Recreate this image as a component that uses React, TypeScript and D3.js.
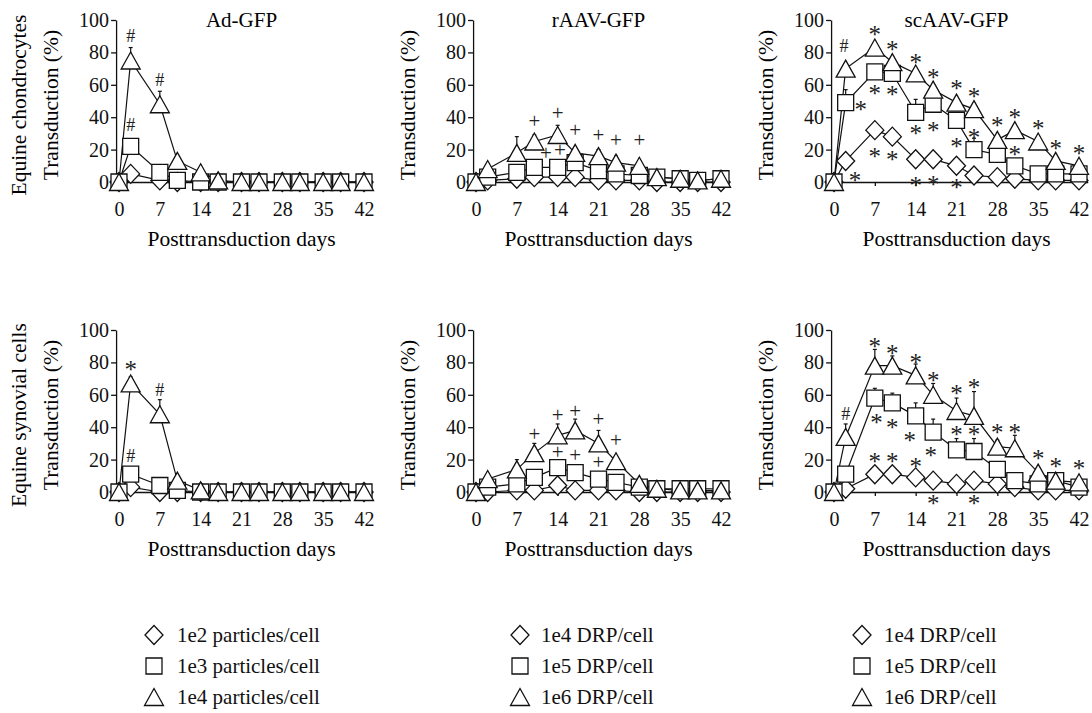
import React, { useRef, useEffect } from "react";
import * as d3 from "d3";

// sampling days and axis ticks
const days = [0, 2, 7, 10, 14, 17, 21, 24, 28, 31, 35, 38, 42];
const xTicks = [0, 7, 14, 21, 28, 35, 42];
const yTicks = [0, 20, 40, 60, 80, 100];

const titles = ["Ad-GFP", "rAAV-GFP", "scAAV-GFP"];
const rowLabels = ["Equine chondrocytes", "Equine synovial cells"];
const legendAd = ["1e2 particles/cell", "1e3 particles/cell", "1e4 particles/cell"];
const legendAav = ["1e4 DRP/cell", "1e5 DRP/cell", "1e6 DRP/cell"];

// chondrocytes - Ad-GFP
const adChLow = [0, 5, 1, 0, 0, 0, 0, 0, 0, 0, 0, 0, 0];
const adChMid = [0, 22, 6, 1, 0, 0, 0, 0, 0, 0, 0, 0, 0];
const adChHigh = [0, 75, 48, 13, 6, 1, 0, 0, 0, 0, 0, 0, 0];
const adChHighErr = [0, 8, 8, 3, 1, 0, 0, 0, 0, 0, 0, 0, 0];
// chondrocytes - rAAV-GFP
const raChLow = [0, 1, 2, 3, 3, 3, 1, 1, 1, 0, 0, 0, 0];
const raChMid = [0, 3, 6, 9, 9, 12, 7, 5, 4, 3, 2, 1, 2];
const raChHigh = [0, 8, 18, 25, 29, 18, 16, 12, 10, 3, 2, 1, 2];
const raChHighErr = [0, 3, 10, 4, 6, 3, 4, 4, 3, 2, 1, 1, 1];
// chondrocytes - scAAV-GFP
const scChLow = [0, 13, 32, 28, 14, 14, 10, 4, 3, 2, 1, 1, 1];
const scChMid = [0, 49, 68, 67, 43, 48, 38, 20, 17, 10, 5, 5, 5];
const scChMidErr = [0, 8, 3, 2, 8, 4, 3, 7, 3, 2, 1, 1, 1];
const scChHigh = [0, 70, 83, 74, 67, 57, 49, 45, 26, 32, 25, 13, 10];
const scChHighErr = [0, 3, 3, 3, 3, 3, 3, 3, 3, 3, 3, 3, 3];

// synovial cells - Ad-GFP
const adSyLow = [0, 3, 0, 0, 0, 0, 0, 0, 0, 0, 0, 0, 0];
const adSyMid = [0, 11, 4, 1, 0, 0, 0, 0, 0, 0, 0, 0, 0];
const adSyHigh = [0, 67, 48, 7, 1, 0, 0, 0, 0, 0, 0, 0, 0];
const adSyHighErr = [0, 4, 9, 3, 0, 0, 0, 0, 0, 0, 0, 0, 0];
// synovial cells - rAAV-GFP
const raSyLow = [0, 0, 1, 1, 4, 1, 1, 1, 0, 0, 0, 0, 0];
const raSyMid = [0, 3, 5, 9, 15, 12, 8, 6, 3, 2, 2, 2, 2];
const raSyHigh = [0, 8, 14, 24, 35, 38, 30, 19, 5, 2, 1, 1, 1];
const raSyHighErr = [0, 2, 6, 6, 7, 7, 8, 3, 2, 1, 1, 1, 1];
// synovial cells - scAAV-GFP
const scSyLow = [0, 2, 11, 11, 9, 7, 5, 7, 5, 3, 1, 1, 1];
const scSyMid = [0, 11, 58, 55, 47, 37, 26, 25, 14, 7, 5, 7, 3];
const scSyMidErr = [0, 2, 6, 6, 8, 8, 7, 8, 3, 2, 1, 2, 1];
const scSyHigh = [0, 34, 78, 78, 72, 60, 50, 47, 28, 27, 12, 7, 6];
const scSyHighErr = [0, 8, 10, 6, 7, 7, 8, 15, 4, 8, 3, 2, 2];

const none = days.map(() => 0);

// significance marks: [day, value, symbol]
const adChMarks = [[2, 90, "#"], [7, 63, "#"], [2, 35, "#"]];
const raChMarks = [[10, 37, "+"], [14, 42, "+"], [17, 31, "+"], [21, 28, "+"], [24, 25, "+"], [28, 25, "+"], [12, 17, "+"], [14.4, 19, "+"]];
const scChMarks = [
  [1.7, 84, "#"], [7, 94, "*"], [10, 85, "*"], [14, 77, "*"], [17, 68, "*"], [21, 61, "*"], [24, 56, "*"],
  [28, 38, "*"], [31, 43, "*"], [35, 36, "*"], [38, 24, "*"], [42, 21, "*"],
  [4.6, 48, "*"], [7, 58, "*"], [10, 57, "*"], [14, 33, "*"], [17, 35, "*"], [21, 25, "*"], [24, 31, "*"], [31, 20, "*"],
  [3.6, 4, "*"], [7, 19, "*"], [10, 17, "*"], [14, 1, "*"], [17, 2, "*"], [21, 0, "*"],
];
const adSyMarks = [[2, 79, "*"], [7, 63, "#"], [2, 22, "#"]];
const raSyMarks = [[10, 35, "+"], [14, 47, "+"], [17, 49, "+"], [21, 44, "+"], [24, 31, "+"], [14, 24, "+"], [17, 22, "+"], [21, 18, "+"]];
const scSyMarks = [
  [2, 48, "#"], [7, 93, "*"], [10, 89, "*"], [14, 83, "*"], [17, 72, "*"], [21, 64, "*"], [24, 68, "*"],
  [28, 40, "*"], [31, 40, "*"], [35, 24, "*"], [38, 19, "*"], [42, 18, "*"],
  [7.3, 46, "*"], [10, 43, "*"], [13, 35, "*"], [16.6, 26, "*"], [21, 39, "*"], [24, 39, "*"],
  [7, 22, "*"], [10, 22, "*"], [14, 19, "*"], [17, -4, "*"], [24, -4, "*"],
];

const panels = [
  { col: 0, row: 0, low: adChLow, mid: adChMid, high: adChHigh, midErr: none, highErr: adChHighErr, marks: adChMarks },
  { col: 1, row: 0, low: raChLow, mid: raChMid, high: raChHigh, midErr: none, highErr: raChHighErr, marks: raChMarks },
  { col: 2, row: 0, low: scChLow, mid: scChMid, high: scChHigh, midErr: scChMidErr, highErr: scChHighErr, marks: scChMarks },
  { col: 0, row: 1, low: adSyLow, mid: adSyMid, high: adSyHigh, midErr: none, highErr: adSyHighErr, marks: adSyMarks },
  { col: 1, row: 1, low: raSyLow, mid: raSyMid, high: raSyHigh, midErr: none, highErr: raSyHighErr, marks: raSyMarks },
  { col: 2, row: 1, low: scSyLow, mid: scSyMid, high: scSyHigh, midErr: scSyMidErr, highErr: scSyHighErr, marks: scSyMarks },
];

const FONT = "'Liberation Serif', 'Times New Roman', serif";

const shapes: Record<string, string> = {
  diamond: "M0,-9.5L9,0L0,9.5L-9,0Z",
  square: "M-8,-8H8V8H-8Z",
  triangle: "M0,-8.5L9.5,8.5L-9.5,8.5Z",
};

export default function App() {
  const ref = useRef<SVGSVGElement | null>(null);

  useEffect(() => {
    const svg = d3.select(ref.current);
    svg.selectAll("*").remove();

    const colX0 = [119, 476, 834]; // pixel of day 0
    const rowY0 = [182, 492]; // pixel of 0 %
    const pxDay = 245 / 42;
    const pxPct = 162 / 100;

    panels.forEach((p) => {
      const x0 = colX0[p.col];
      const y0 = rowY0[p.row];
      const x = d3.scaleLinear().domain([-1.5, 43.5]).range([x0 - 1.5 * pxDay, x0 + 43.5 * pxDay]);
      const y = d3.scaleLinear().domain([-5, 100]).range([y0 + 5 * pxPct, y0 - 100 * pxPct]);
      const g = svg.append("g");

      // x axis at 0 %
      const xa = g
        .append("g")
        .attr("transform", `translate(0,${y(0)})`)
        .call(d3.axisBottom(x).tickValues(xTicks).tickSize(4).tickSizeOuter(0).tickPadding(16));
      xa.selectAll("text").attr("font-size", 20).attr("font-family", FONT).attr("fill", "#111");
      xa.selectAll("line,path").attr("stroke", "#111").attr("stroke-width", 1.3);

      // y axis
      const ya = g
        .append("g")
        .attr("transform", `translate(${x(-0.5)},0)`)
        .call(d3.axisLeft(y).tickValues(yTicks).tickSize(5).tickSizeOuter(0).tickPadding(2));
      ya.selectAll("text").attr("font-size", 20).attr("font-family", FONT).attr("fill", "#111");
      ya.selectAll("line,path").attr("stroke", "#111").attr("stroke-width", 1.3);

      const midX = (x(-1.5) + x(43.5)) / 2;
      if (p.row === 0) {
        g.append("text")
          .attr("x", midX)
          .attr("y", y(100) + 7)
          .attr("text-anchor", "middle")
          .attr("font-size", 21)
          .attr("font-family", FONT)
          .text(titles[p.col]);
      }
      g.append("text")
        .attr("x", midX)
        .attr("y", y0 + 64)
        .attr("text-anchor", "middle")
        .attr("font-size", 21.5)
        .attr("font-family", FONT)
        .text("Posttransduction days");

      const midY = (y(100) + y(-5)) / 2;
      g.append("text")
        .attr("transform", `translate(${x(-0.5) - 58},${midY}) rotate(-90)`)
        .attr("text-anchor", "middle")
        .attr("font-size", 21.5)
        .attr("font-family", FONT)
        .text("Transduction (%)");
      if (p.col === 0) {
        g.append("text")
          .attr("transform", `translate(${x(-0.5) - 90},${midY}) rotate(-90)`)
          .attr("text-anchor", "middle")
          .attr("font-size", 21.5)
          .attr("font-family", FONT)
          .text(rowLabels[p.row]);
      }

      const series = [
        { vals: p.low, err: none, shape: "diamond" },
        { vals: p.mid, err: p.midErr, shape: "square" },
        { vals: p.high, err: p.highErr, shape: "triangle" },
      ];

      const line = d3
        .line<number>()
        .x((d, i) => x(days[i]))
        .y((d) => y(d));

      // lines first
      series.forEach((s) => {
        g.append("path")
          .attr("d", line(s.vals) as string)
          .attr("fill", "none")
          .attr("stroke", "#111")
          .attr("stroke-width", 1.2);
      });

      // error bars
      series.forEach((s) => {
        s.vals.forEach((v, i) => {
          if (!s.err[i]) return;
          const cx = x(days[i]);
          g.append("line")
            .attr("x1", cx).attr("x2", cx)
            .attr("y1", y(v)).attr("y2", y(v + s.err[i]))
            .attr("stroke", "#111").attr("stroke-width", 1.2);
          g.append("line")
            .attr("x1", cx - 2).attr("x2", cx + 2)
            .attr("y1", y(v + s.err[i])).attr("y2", y(v + s.err[i]))
            .attr("stroke", "#111").attr("stroke-width", 1.2);
        });
      });

      // markers
      series.forEach((s) => {
        g.append("g")
          .selectAll("path")
          .data(s.vals)
          .enter()
          .append("path")
          .attr("d", shapes[s.shape])
          .attr("transform", (d, i) => `translate(${x(days[i])},${y(d)})`)
          .attr("fill", "#fff")
          .attr("stroke", "#111")
          .attr("stroke-width", 1.3);
      });

      // significance marks
      const fs: Record<string, number> = { "#": 18, "*": 25, "+": 21 };
      const off: Record<string, number> = { "#": 0.34, "*": 0.55, "+": 0.27 };
      p.marks.forEach((m) => {
        const sym = m[2] as string;
        g.append("text")
          .attr("x", x(m[0] as number))
          .attr("y", y(m[1] as number) + off[sym] * fs[sym])
          .attr("text-anchor", "middle")
          .attr("font-size", fs[sym])
          .attr("font-family", FONT)
          .attr("fill", "#222")
          .text(sym);
      });
    });

    // legends
    const legCols = [
      { mx: 154, tx: 177, labels: legendAd },
      { mx: 520, tx: 541, labels: legendAav },
      { mx: 862, tx: 884, labels: legendAav },
    ];
    const legRows = [635, 666, 697];
    const legShapes = ["diamond", "square", "triangle"];
    legCols.forEach((c) => {
      c.labels.forEach((lab, i) => {
        svg.append("path")
          .attr("d", shapes[legShapes[i]])
          .attr("transform", `translate(${c.mx},${legRows[i]})`)
          .attr("fill", "#fff")
          .attr("stroke", "#111")
          .attr("stroke-width", 1.3);
        svg.append("text")
          .attr("x", c.tx)
          .attr("y", legRows[i] + 7)
          .attr("font-size", 21)
          .attr("font-family", FONT)
          .attr("fill", "#111")
          .text(lab);
      });
    });
  }, []);

  return (
    <svg
      ref={ref}
      width={1092}
      height={713}
      style={{ position: "absolute", left: 0, top: 0, background: "#fff" }}
    />
  );
}
